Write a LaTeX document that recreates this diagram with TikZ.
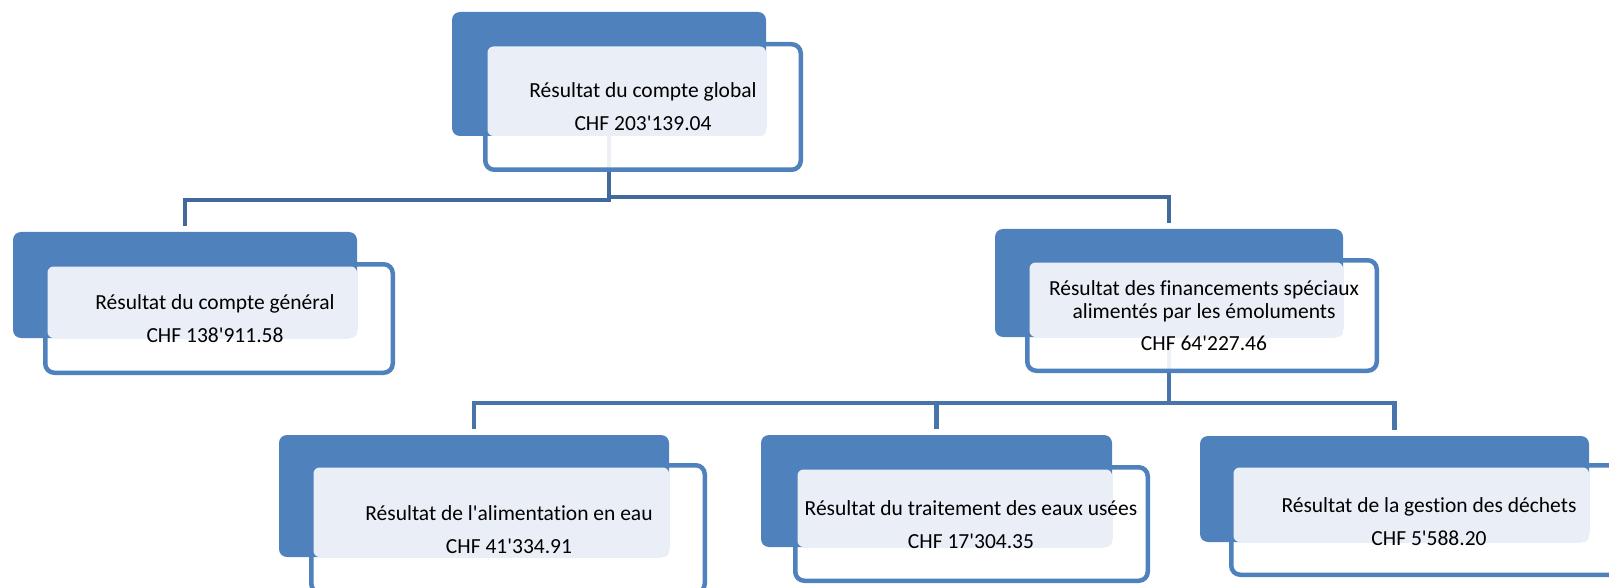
\documentclass[tikz,border=0pt]{standalone}
\usepackage{fontspec}
\setmainfont{Carlito}[Ligatures={TeXOff,CommonOff}]
\usetikzlibrary{backgrounds}
\definecolor{boxblue}{HTML}{4F81BD}
\definecolor{lighttint}{HTML}{EAEFF7}
\definecolor{linetop}{HTML}{41699B}
\definecolor{linelow}{HTML}{4774AB}
\tikzset{
  outl/.style={draw=boxblue, line width=4.5pt, fill=white, fill opacity=0.9, draw opacity=1, rounded corners=9pt},
  bluebox/.style={rectangle, fill=boxblue, draw=none, rounded corners=8pt, inner sep=0pt, outer sep=0pt},
  lightbox/.style={fill=lighttint, rounded corners=6pt},
  conn/.style={line width=4.5pt, line cap=butt, line join=miter},
  txt/.style={align=center, inner sep=0pt, font=\fontsize{21.5}{23}\selectfont, text=black}
}
% #1 name, #2-#5 blue box x1 y1 x2 y2, #6-#9 outline box x1 y1 x2 y2 (outer edges)
\newcommand\orgunit[9]{%
  \draw[outl] (#6+2.25,#7+2.25) rectangle (#8-2.25,#9-2.25);
  \node[bluebox, minimum width=#4-#2, minimum height=#5-#3] (#1) at ({(#2+#4)/2},{(#3+#5)/2}) {};
  \fill[lightbox] (#6+4.5,#7+4.5) rectangle (#4,#5);
}
\begin{document}
\begin{tikzpicture}[x=1pt,y=-1pt]
\useasboundingbox (0,0) rectangle (1609,588);
\clip (0,0) rectangle (1609,588);
% units
\orgunit{top}{452}{12}{766}{136}{483}{42}{803}{172}
\orgunit{gen}{13}{232}{357}{338}{43}{262}{395}{375}
\orgunit{fin}{995}{229}{1343}{337}{1025}{258}{1379}{373}
\orgunit{eau}{279}{435}{669}{557}{309}{463}{707}{595}
\orgunit{use}{761}{435}{1112}{547}{793}{465}{1150}{583}
\orgunit{dec}{1200}{436}{1589}{542}{1229}{463}{1630}{577}
% bus levels
\coordinate (busA) at (0,200);
\coordinate (busAr) at (0,197);
\coordinate (busB) at (0,403);
\begin{scope}[on background layer]
\fill[white] (0,0) rectangle (1609,588);
\draw[conn, linetop, shorten >=6pt] (top.south) -- (top.south |- busA) -| (gen.north);
\draw[conn, linetop, shorten >=6pt] (top.south |- busAr) -| (fin.north);
\draw[conn, linelow] (fin.south) -- (fin.south |- busB);
\draw[conn, linelow, shorten >=6pt] (fin.south |- busB) -| (eau.north);
\draw[conn, linelow, shorten >=6pt] (fin.south |- busB) -| (use.north);
\draw[conn, linelow, shorten >=6pt] (fin.south |- busB) -| (dec.north);
\end{scope}
% texts
\node[txt] (toptext) at (643,106.5) {Résultat du compte global\\[9.5pt]CHF 203'139.04};
\node[txt] (gentext) at (215,318.5) {Résultat du compte général\\[9.5pt]CHF 138'911.58};
\node[txt] (fintext) at (1204,315.5) {Résultat des financements spéciaux\\alimentés par les émoluments\\[9pt]CHF 64'227.46};
\node[txt] (eautext) at (509,529.5) {Résultat de l'alimentation en eau\\[9.5pt]CHF 41'334.91};
\node[txt] (usetext) at (971,524.5) {Résultat du traitement des eaux usées\\[9.5pt]CHF 17'304.35};
\node[txt] (dectext) at (1429,521.5) {Résultat de la gestion des déchets\\[9.5pt]CHF 5'588.20};
\end{tikzpicture}
\end{document}
